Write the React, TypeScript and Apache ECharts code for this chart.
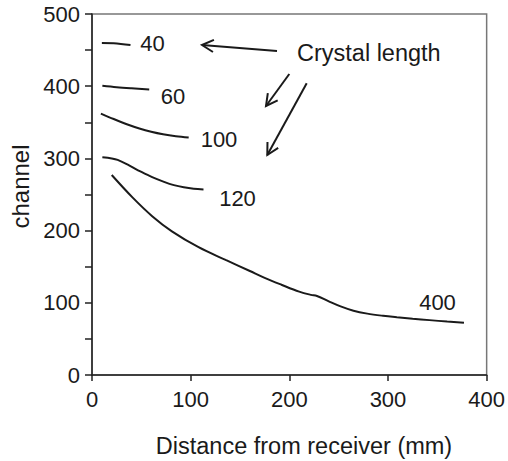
import React, { useEffect, useRef } from "react";
import * as echarts from "echarts";

// Crystal length curves: [distance from receiver (mm), channel]
const crystal40: number[][] = [[10, 460], [22, 459.5], [39, 457]];
const crystal60: number[][] = [[10.5, 400.5], [25, 398.5], [40, 397], [58, 395.5]];
const crystal100: number[][] = [
  [9, 362], [22, 354.5], [36, 347], [48, 341.5], [60, 337], [72, 333.5], [85, 330.8], [98, 329],
];
const crystal120: number[][] = [
  [10.5, 301.5], [20, 300], [26, 298], [38, 290], [49, 282], [61, 274], [73, 267.5],
  [83, 263], [93, 260], [103, 258], [113, 257],
];
const crystal400: number[][] = [
  [20, 277], [41, 246], [61, 220], [81, 199], [108, 177], [136, 159], [160, 144],
  [175, 134.5], [192, 125], [210, 115.5], [222, 111], [228, 109.5], [240, 102],
  [252, 95], [265, 89], [279, 85], [295, 82], [309, 80], [325, 78], [342, 76],
  [360, 74], [377, 72.5],
];

const seriesNames = ["40", "60", "100", "120", "400"];
const seriesData = [crystal40, crystal60, crystal100, crystal120, crystal400];

const xTicks = { min: 0, max: 400, interval: 100 };
const yTicks = { min: 0, max: 500, interval: 100 };

const FONT = "Liberation Sans";
const INK = "#1a1a1a";

function arrow(from: number[], tip: number[]) {
  const dx = tip[0] - from[0];
  const dy = tip[1] - from[1];
  const L = Math.hypot(dx, dy);
  const ux = dx / L, uy = dy / L;
  const head = 13, ang = (28 * Math.PI) / 180;
  const rot = (a: number) => [
    tip[0] - head * (ux * Math.cos(a) - uy * Math.sin(a)),
    tip[1] - head * (ux * Math.sin(a) + uy * Math.cos(a)),
  ];
  return [
    { type: "polyline", shape: { points: [from, tip] }, style: { stroke: INK, lineWidth: 2, fill: null } },
    { type: "polyline", shape: { points: [rot(ang), tip, rot(-ang)] }, style: { stroke: INK, lineWidth: 2, fill: null } },
  ];
}

const curveLabels = [
  { t: "40", x: 152.5, y: 43 },
  { t: "60", x: 173, y: 96 },
  { t: "100", x: 219, y: 139 },
  { t: "120", x: 237.5, y: 198 },
  { t: "400", x: 437.5, y: 302 },
];

export default function App() {
  const ref = useRef<HTMLDivElement>(null);
  useEffect(() => {
    if (!ref.current) return;
    const chart = echarts.init(ref.current, null, { renderer: "svg" });
    const labelStyle = { fontSize: 22, fontFamily: FONT, color: INK };
    const graphic: any[] = [
      {
        type: "text", x: 20.5, y: 186.5, rotation: Math.PI / 2,
        style: { text: "channel", fontSize: 24, fontFamily: FONT, fill: INK, align: "center", verticalAlign: "middle" },
      },
      {
        type: "text", x: 304, y: 446,
        style: { text: "Distance from receiver (mm)", fontSize: 23.5, fontFamily: FONT, fill: INK, align: "center", verticalAlign: "middle" },
      },
      {
        type: "text", x: 297, y: 53,
        style: { text: "Crystal length", fontSize: 23.5, fontFamily: FONT, fill: INK, align: "left", verticalAlign: "middle" },
      },
      ...curveLabels.map((c) => ({
        type: "text", x: c.x, y: c.y,
        style: { text: c.t, fontSize: 22, fontFamily: FONT, fill: INK, align: "center", verticalAlign: "middle" },
      })),
      ...arrow([277, 51], [202, 45]),
      ...arrow([289.3, 74], [266, 106]),
      ...arrow([306.7, 83.3], [267.3, 155]),
    ];
    chart.setOption({
      animation: false,
      backgroundColor: "#ffffff",
      grid: {
        left: 92, right: 17, top: 14, bottom: 86,
        show: true, borderColor: "#777", borderWidth: 1.5, backgroundColor: "transparent",
      },
      xAxis: {
        type: "value", ...xTicks,
        axisLine: { show: true, onZero: false, lineStyle: { color: "#222", width: 1.5 } },
        axisTick: { show: true, inside: false, length: 6, lineStyle: { color: "#222", width: 1.5 } },
        axisLabel: { ...labelStyle, margin: 13 },
        splitLine: { show: false },
      },
      yAxis: {
        type: "value", ...yTicks,
        axisLine: { show: true, onZero: false, lineStyle: { color: "#222", width: 1.5 } },
        axisTick: { show: true, inside: false, length: 7, lineStyle: { color: "#222", width: 1.5 } },
        minorTick: { show: true, splitNumber: 2, length: 7, lineStyle: { color: "#222", width: 1.5 } },
        axisLabel: { ...labelStyle, margin: 12 },
        splitLine: { show: false },
        minorSplitLine: { show: false },
      },
      series: seriesData.map((d, i) => ({
        name: seriesNames[i],
        type: "line",
        data: d,
        showSymbol: false,
        symbol: "none",
        smooth: 0.35,
        lineStyle: { color: INK, width: 2 },
      })),
      graphic,
    });
    return () => chart.dispose();
  }, []);
  return (
    <div
      ref={ref}
      style={{ position: "fixed", left: 0, top: 0, width: 508, height: 461, background: "#fff" }}
    />
  );
}
